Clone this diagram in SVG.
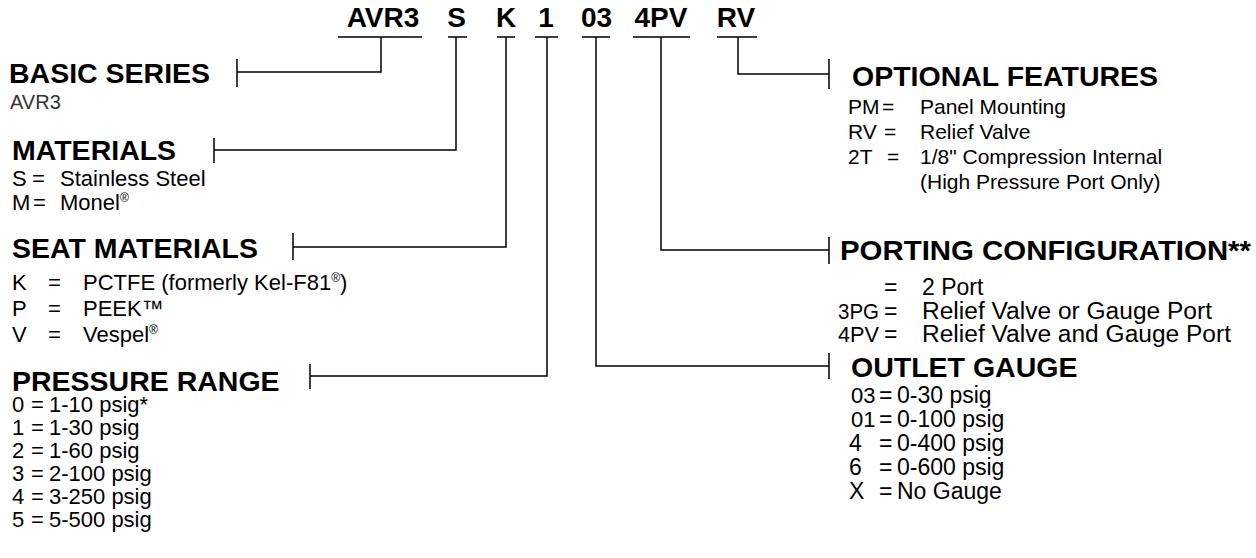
<svg xmlns="http://www.w3.org/2000/svg" width="1256" height="558" viewBox="0 0 1256 558">
<style>
text{font-family:"Liberation Sans",Arial,sans-serif;fill:#000}
.code{font-size:28px;font-weight:bold;text-anchor:middle}
.title{font-size:28.5px;font-weight:bold}
.body{font-size:22px}
.opt{font-size:21px}
.out{font-size:23px}
.oc{font-size:22px}
.port{font-size:23px}
.pc{font-size:22px}
.sup{font-size:12px}
.ln{fill:none;stroke:#000;stroke-width:1.5}
</style>
<rect width="1256" height="558" fill="#fff"/>
<g id="codes">
<text class="code" x="383" y="27">AVR3</text>
<text class="code" x="456.5" y="27">S</text>
<text class="code" x="506" y="27">K</text>
<text class="code" x="546" y="27">1</text>
<text class="code" x="596.5" y="27">03</text>
<text class="code" x="661" y="27">4PV</text>
<text class="code" x="736" y="27">RV</text>
</g>
<g id="connectors" class="ln">
<path d="M338 37H422M448 37H467M497 37H515M535 37H558M582 37H610M633 37H690M717 37H757"/>
<path d="M381 37V72H237M237 59V87"/>
<path d="M456 37V150H214M214 138V163"/>
<path d="M506 37V247H293M293 233V260"/>
<path d="M547 37V376H310M310 364V389"/>
<path d="M596 37V366H829M829 353V379"/>
<path d="M661 37V250H829M829 237V264"/>
<path d="M738 37V74H829M829 59V89"/>
</g>
<g id="basic-series">
<text class="title" x="9" y="83">BASIC SERIES</text>
<text class="body" x="10" y="109" style="font-size:20px;fill:#333">AVR3</text>
</g>
<g id="materials">
<text class="title" x="12" y="160">MATERIALS</text>
<text class="body" y="186"><tspan x="12">S</tspan><tspan x="32">=</tspan><tspan x="60">Stainless Steel</tspan></text>
<text class="body" y="210"><tspan x="12">M</tspan><tspan x="33">=</tspan><tspan x="60">Monel</tspan><tspan class="sup" dy="-8">®</tspan></text>
</g>
<g id="seat-materials">
<text class="title" x="12" y="258">SEAT MATERIALS</text>
<text class="body" y="290"><tspan x="12">K</tspan><tspan x="48">=</tspan><tspan x="83">PCTFE (formerly Kel-F81</tspan><tspan class="sup" dy="-8">®</tspan><tspan dy="8">)</tspan></text>
<text class="body" y="316"><tspan x="12">P</tspan><tspan x="48">=</tspan><tspan x="83">PEEK™</tspan></text>
<text class="body" y="342"><tspan x="12">V</tspan><tspan x="48">=</tspan><tspan x="83">Vespel</tspan><tspan class="sup" dy="-8">®</tspan></text>
</g>
<g id="pressure-range">
<text class="title" x="12" y="391">PRESSURE RANGE</text>
<text class="body" y="412"><tspan x="12">0</tspan><tspan x="31">=</tspan><tspan x="49">1-10 psig*</tspan></text>
<text class="body" y="435"><tspan x="12">1</tspan><tspan x="31">=</tspan><tspan x="49">1-30 psig</tspan></text>
<text class="body" y="458"><tspan x="12">2</tspan><tspan x="31">=</tspan><tspan x="49">1-60 psig</tspan></text>
<text class="body" y="481"><tspan x="12">3</tspan><tspan x="31">=</tspan><tspan x="49">2-100 psig</tspan></text>
<text class="body" y="504"><tspan x="12">4</tspan><tspan x="31">=</tspan><tspan x="49">3-250 psig</tspan></text>
<text class="body" y="527"><tspan x="12">5</tspan><tspan x="31">=</tspan><tspan x="49">5-500 psig</tspan></text>
</g>
<g id="optional-features">
<text class="title" x="852" y="86">OPTIONAL FEATURES</text>
<text class="opt" y="114"><tspan x="848">PM</tspan><tspan x="882">=</tspan><tspan x="920">Panel Mounting</tspan></text>
<text class="opt" y="139"><tspan x="848">RV</tspan><tspan x="884">=</tspan><tspan x="920">Relief Valve</tspan></text>
<text class="opt" y="164"><tspan x="848">2T</tspan><tspan x="887">=</tspan><tspan x="920">1/8" Compression Internal</tspan></text>
<text class="opt" x="920" y="189">(High Pressure Port Only)</text>
</g>
<g id="porting-configuration">
<text class="title" x="840" y="260" textLength="411" lengthAdjust="spacingAndGlyphs">PORTING CONFIGURATION**</text>
<text class="port" y="295"><tspan x="884">=</tspan><tspan x="922">2 Port</tspan></text>
<text class="pc" x="838" y="319" textLength="41" lengthAdjust="spacingAndGlyphs">3PG</text>
<text class="port" x="884" y="319">=</text>
<text class="port" x="922" y="319" textLength="290" lengthAdjust="spacingAndGlyphs">Relief Valve or Gauge Port</text>
<text class="pc" x="838" y="342" textLength="41" lengthAdjust="spacingAndGlyphs">4PV</text>
<text class="port" x="884" y="342">=</text>
<text class="port" x="922" y="342" textLength="309" lengthAdjust="spacingAndGlyphs">Relief Valve and Gauge Port</text>
</g>
<g id="outlet-gauge">
<text class="title" x="851" y="377">OUTLET GAUGE</text>
<text class="out" y="403"><tspan class="oc" x="851">03</tspan><tspan x="879">=</tspan><tspan x="897">0-30 psig</tspan></text>
<text class="out" y="427"><tspan class="oc" x="851">01</tspan><tspan x="879">=</tspan><tspan x="897">0-100 psig</tspan></text>
<text class="out" y="451"><tspan x="849">4</tspan><tspan x="879">=</tspan><tspan x="897">0-400 psig</tspan></text>
<text class="out" y="475"><tspan x="849">6</tspan><tspan x="879">=</tspan><tspan x="897">0-600 psig</tspan></text>
<text class="out" y="499"><tspan x="849">X</tspan><tspan x="879">=</tspan><tspan x="897">No Gauge</tspan></text>
</g>
</svg>
